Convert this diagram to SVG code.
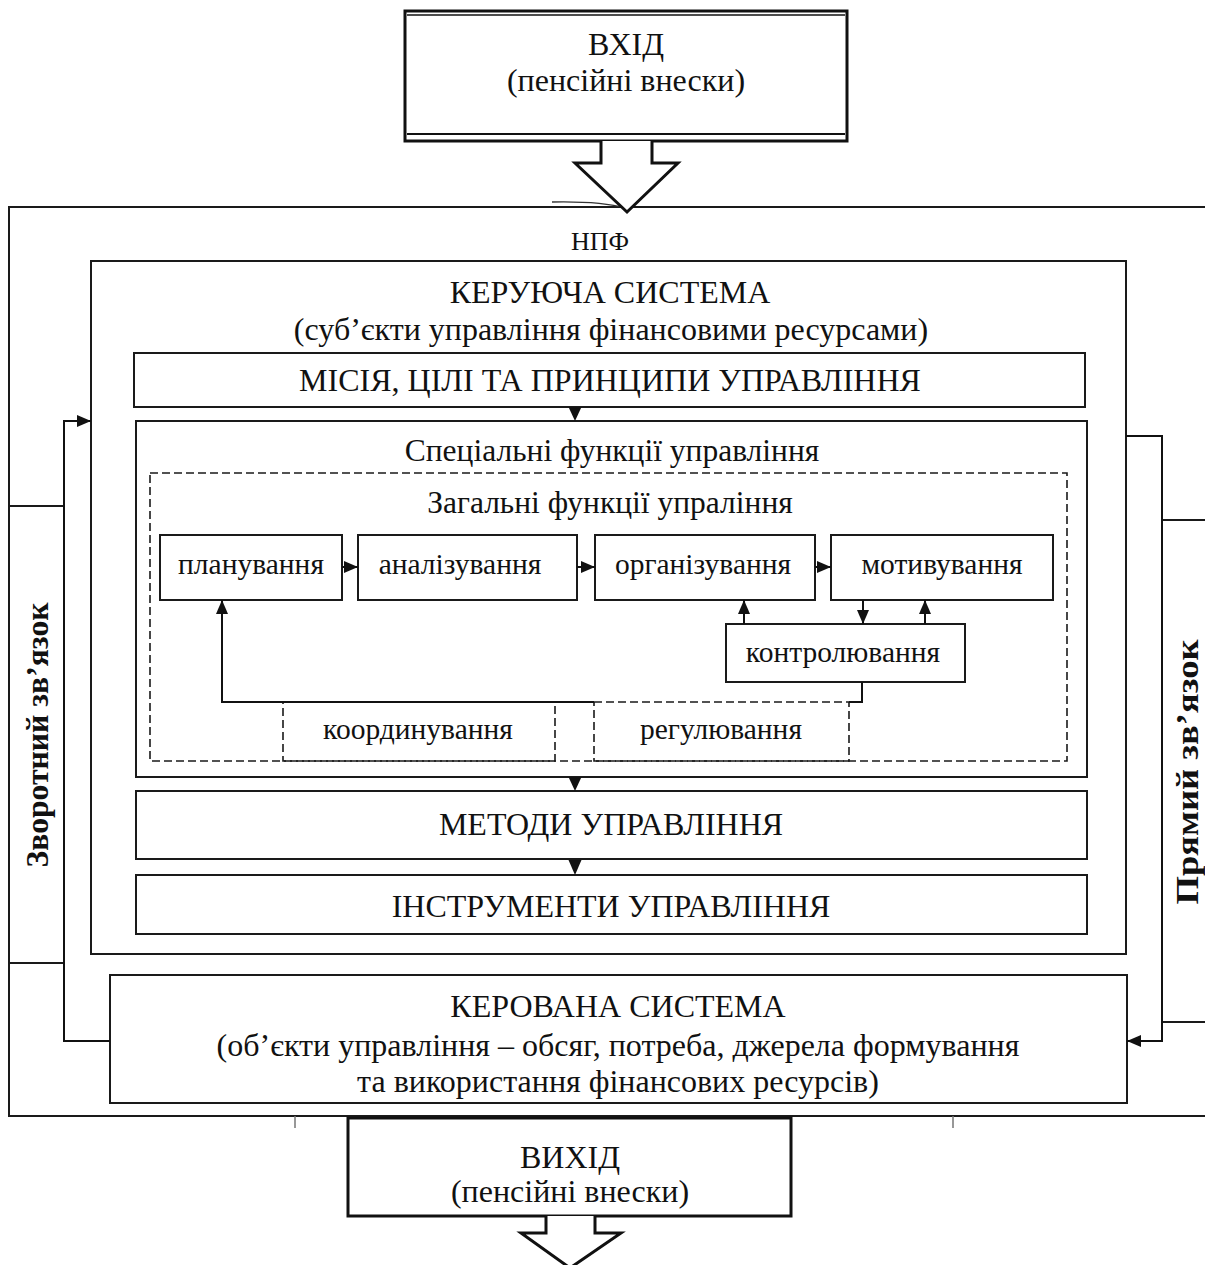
<svg xmlns="http://www.w3.org/2000/svg" width="1205" height="1265" viewBox="0 0 1205 1265">
<style>
.b{fill:#fff;stroke:#1a1a1a;stroke-width:2}
.n{fill:none;stroke:#1a1a1a;stroke-width:2}
.d{fill:none;stroke:#1a1a1a;stroke-width:1.6;stroke-dasharray:8 4}
.k{fill:#fff;stroke:#111;stroke-width:3}
.t{font-family:"Liberation Serif","Times New Roman",serif;font-size:32px;fill:#111;text-anchor:middle}
.m{font-size:31.5px}
.s{font-size:29.5px}
.r{font-weight:bold;font-size:32px}
.c{fill:none;stroke:#111;stroke-width:2}
.h{fill:#111;stroke:none}
</style>
<defs>
<marker id="ah" viewBox="0 0 14 12" refX="14" refY="6" markerWidth="14" markerHeight="12" markerUnits="userSpaceOnUse" orient="auto">
<path d="M0,0 L14,6 L0,12 z" fill="#111"/>
</marker>
</defs>
<rect width="1205" height="1265" fill="#fff"/>

<g id="npf">
<path class="n" d="M1210 207 H9 V1116 H1210"/>
<path d="M552 202 Q600 201 626 208" fill="none" stroke="#333" stroke-width="1.4"/>
<path d="M295 1116 V1128 M953 1116 V1128" stroke="#777" stroke-width="1.5" fill="none"/>
<text class="t" x="600" y="250" style="font-size:26px">НПФ</text>
</g>

<g id="vhid">
<rect class="k" x="405" y="11" width="442" height="130"/>
<line x1="407" y1="15" x2="845" y2="15" stroke="#111" stroke-width="1.5"/>
<line x1="407" y1="134" x2="845" y2="134" stroke="#111" stroke-width="2"/>
<text class="t" x="626" y="55">ВХІД</text>
<text class="t" x="626" y="91">(пенсійні внески)</text>
</g>
<g id="vhid-arrow">
<path class="k" d="M601 141 V163 H575 L627 212 L678 163 H652 V141"/>
</g>

<g id="zvorotnyi">
<rect class="b" x="9" y="506" width="55" height="457"/>
<text class="t r" transform="translate(37,735) rotate(-90)" dy="11" textLength="265" lengthAdjust="spacingAndGlyphs">Зворотний зв’язок</text>
</g>

<g id="pryamyi">
<path class="n" d="M1210 520 H1162 V1022 H1210"/>
<text class="t r" transform="translate(1189,772) rotate(-90)" dy="9" textLength="265" lengthAdjust="spacingAndGlyphs">Прямий зв’язок</text>
</g>

<g id="keruyucha">
<rect class="b" x="91" y="261" width="1035" height="693"/>
<text class="t" x="610" y="303">КЕРУЮЧА СИСТЕМА</text>
<text class="t" x="611" y="340">(суб’єкти управління фінансовими ресурсами)</text>
</g>

<g id="misiya">
<rect class="b" x="134" y="353" width="951" height="54"/>
<text class="t" x="610" y="391">МІСІЯ, ЦІЛІ ТА ПРИНЦИПИ УПРАВЛІННЯ</text>
</g>

<g id="spetsialni">
<rect class="b" x="136" y="421" width="951" height="356"/>
<text class="t m" x="612" y="461">Спеціальні функції управління</text>
</g>

<g id="zagalni">
<rect class="d" x="150" y="473" width="917" height="288"/>
<text class="t m" x="610" y="513">Загальні функції упраління</text>
</g>

<g id="planuvannya">
<rect class="b" x="160" y="535" width="182" height="65"/>
<text class="t s" x="251" y="574">планування</text>
</g>
<g id="analizuvannya">
<rect class="b" x="358" y="535" width="219" height="65"/>
<text class="t s" x="460" y="574">аналізування</text>
</g>
<g id="orhanizuvannya">
<rect class="b" x="595" y="535" width="220" height="65"/>
<text class="t s" x="703" y="574">організування</text>
</g>
<g id="motyvuvannya">
<rect class="b" x="831" y="535" width="222" height="65"/>
<text class="t s" x="942" y="574">мотивування</text>
</g>
<g id="kontrolyuvannya">
<rect class="b" x="726" y="624" width="239" height="58"/>
<text class="t s" x="843" y="662">контролювання</text>
</g>
<g id="koordynuvannya">
<rect class="d" x="283" y="702" width="272" height="59"/>
<text class="t s" x="418" y="739">координування</text>
</g>
<g id="rehulyuvannya">
<rect class="d" x="594" y="702" width="255" height="59"/>
<text class="t s" x="721" y="739">регулювання</text>
</g>

<g id="metody">
<rect class="b" x="136" y="791" width="951" height="68"/>
<text class="t" x="611" y="835">МЕТОДИ УПРАВЛІННЯ</text>
</g>
<g id="instrumenty">
<rect class="b" x="136" y="875" width="951" height="59"/>
<text class="t" x="611" y="917">ІНСТРУМЕНТИ УПРАВЛІННЯ</text>
</g>

<g id="kerovana">
<rect class="b" x="110" y="975" width="1017" height="128"/>
<text class="t" x="618" y="1017">КЕРОВАНА СИСТЕМА</text>
<text class="t" x="618" y="1056">(об’єкти управління – обсяг, потреба, джерела формування</text>
<text class="t" x="618" y="1092">та використання фінансових ресурсів)</text>
</g>

<g id="vyhid">
<rect class="k" x="348" y="1118" width="443" height="98"/>
<text class="t" x="570" y="1168">ВИХІД</text>
<text class="t" x="570" y="1202">(пенсійні внески)</text>
</g>
<g id="vyhid-arrow">
<path class="k" d="M546 1216 V1233 H521 L570 1268 L621 1233 H595 V1216"/>
</g>

<g id="connectors">
<polygon class="h" points="568.5,407 581.5,407 575,421"/>
<polygon class="h" points="568.5,777 581.5,777 575,791"/>
<polygon class="h" points="568.5,860 581.5,860 575,875"/>
<line class="c" x1="342" y1="567" x2="358" y2="567" marker-end="url(#ah)"/>
<line class="c" x1="577" y1="567" x2="595" y2="567" marker-end="url(#ah)"/>
<line class="c" x1="815" y1="567" x2="831" y2="567" marker-end="url(#ah)"/>
<line class="c" x1="744" y1="624" x2="744" y2="600" marker-end="url(#ah)"/>
<line class="c" x1="863" y1="600" x2="863" y2="624" marker-end="url(#ah)"/>
<line class="c" x1="925" y1="624" x2="925" y2="600" marker-end="url(#ah)"/>
<path class="c" d="M862 682 V702 H849"/>
<path class="c" d="M594 702 H222 V600" marker-end="url(#ah)"/>
<path class="c" d="M110 1041 H64 V421 H91" marker-end="url(#ah)"/>
<path class="c" d="M1126 436 H1162 V1041 H1127" marker-end="url(#ah)"/>
</g>
</svg>
